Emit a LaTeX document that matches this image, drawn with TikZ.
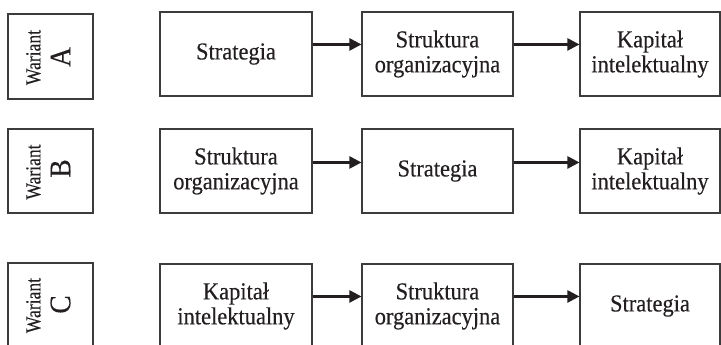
\documentclass[tikz,border=0pt]{standalone}
\usepackage{fontspec}
\setmainfont{Liberation Serif}[FakeStretch=0.92, FakeBold=0.3]
\newfontfamily\narrowserif{Liberation Serif}[FakeStretch=0.82, FakeBold=0.3]
\usetikzlibrary{arrows.meta}
\definecolor{ink}{HTML}{231F20}
\definecolor{frame}{HTML}{3C3C3C}
\tikzset{
  stage/.style={draw=frame, line width=1.1bp, align=center, text=ink,
    font=\fontsize{24.5}{25}\selectfont, inner sep=0pt, minimum height=84bp},
  labelbox/.style={draw=frame, line width=1.1bp, minimum width=85bp,
    minimum height=85bp, inner sep=0pt},
  wtext/.style={rotate=90, text=ink, inner sep=0pt,
    font=\narrowserif\fontsize{21.5}{23}\selectfont},
  ltext/.style={rotate=90, text=ink, inner sep=0pt,
    font=\fontsize{30}{32}\selectfont},
  flow/.style={draw=ink, line width=2.4bp, -{Triangle[length=12bp,width=12bp]}}
}
\begin{document}
\begin{tikzpicture}[x=1bp,y=-1bp]
\path[use as bounding box, clip] (0,0) rectangle (721,344);

% Variant A
\node[labelbox] (lA) at (50.5,56.5) {};
\node[wtext] (wA) at (33.5,57.5) {Wariant};
\node[ltext] (cA) at (60.5,57) {A};
\node[stage, minimum width=152bp] (a1) at (236,54) {Strategia};
\node[stage, minimum width=151bp] (a2) at (437.5,54) {Struktura\\organizacyjna};
\node[stage, minimum width=140bp] (a3) at (650,54) {Kapitał\\intelektualny};
\draw[flow] ([yshift=-33bp]a1.north east) -- ([yshift=-33bp]a2.north west);
\draw[flow] ([yshift=-33bp]a2.north east) -- ([yshift=-33bp]a3.north west);

% Variant B
\node[labelbox, minimum height=84bp] (lB) at (50.5,171) {};
\node[wtext] (wB) at (33.5,172) {Wariant};
\node[ltext] (cB) at (60.5,168.5) {B};
\node[stage, minimum width=152bp] (b1) at (236,171) {Struktura\\organizacyjna};
\node[stage, minimum width=151bp] (b2) at (437.5,171) {Strategia};
\node[stage, minimum width=140bp] (b3) at (650,171) {Kapitał\\intelektualny};
\draw[flow] ([yshift=-34bp]b1.north east) -- ([yshift=-34bp]b2.north west);
\draw[flow] ([yshift=-34bp]b2.north east) -- ([yshift=-34bp]b3.north west);

% Variant C
\node[labelbox] (lC) at (50.5,305.5) {};
\node[wtext] (wC) at (33.5,305.5) {Wariant};
\node[ltext] (cC) at (60.5,304.5) {C};
\node[stage, minimum width=152bp] (c1) at (236,306) {Kapitał\\intelektualny};
\node[stage, minimum width=151bp] (c2) at (437.5,306) {Struktura\\organizacyjna};
\node[stage, minimum width=140bp] (c3) at (650,306) {Strategia};
\draw[flow] ([yshift=-33bp]c1.north east) -- ([yshift=-33bp]c2.north west);
\draw[flow] ([yshift=-33bp]c2.north east) -- ([yshift=-33bp]c3.north west);
\end{tikzpicture}
\end{document}
